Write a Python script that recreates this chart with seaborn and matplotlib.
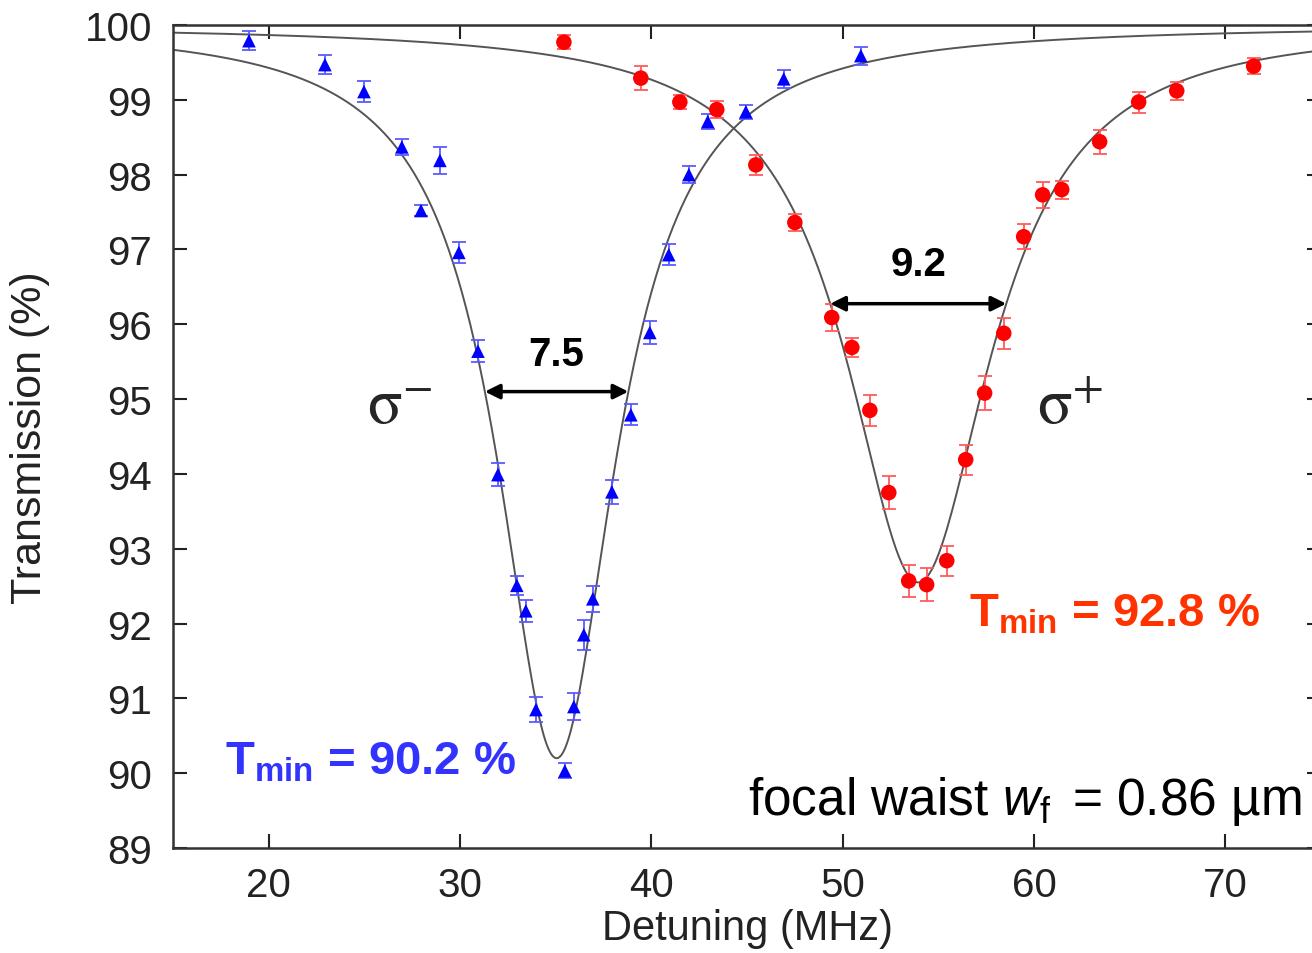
import numpy as np
import pandas as pd
import matplotlib
matplotlib.use("Agg")
import matplotlib.pyplot as plt
import seaborn as sns

# ---- data ----
sigma_minus_x = [18.97, 22.94, 24.98, 26.96, 28.95, 27.96, 29.94, 30.94, 31.98, 32.97,
                 33.44, 33.97, 35.48, 35.95, 36.47, 36.94, 37.94, 38.93, 39.92, 40.91,
                 41.96, 42.95, 44.94, 46.92, 50.95]
sigma_minus_y = [99.79, 99.47, 99.11, 98.37, 98.19, 97.52, 96.96, 95.64, 93.99, 92.51,
                 92.17, 90.85, 90.03, 90.89, 91.85, 92.33, 93.76, 94.79, 95.89, 96.93,
                 98.00, 98.71, 98.84, 99.28, 99.59]
sigma_minus_err = [0.13, 0.13, 0.14, 0.11, 0.18, 0.07, 0.14, 0.15, 0.15, 0.13,
                   0.15, 0.17, 0.10, 0.18, 0.20, 0.17, 0.16, 0.14, 0.15, 0.14,
                   0.11, 0.10, 0.09, 0.12, 0.12]

sigma_plus_x = [35.43, 39.45, 41.49, 43.42, 45.46, 47.50, 49.43, 50.48, 51.42, 52.41,
                53.45, 54.39, 55.44, 56.43, 57.42, 58.42, 59.46, 60.45, 61.45, 63.43,
                65.47, 67.46, 71.48]
sigma_plus_y = [99.77, 99.29, 98.97, 98.87, 98.13, 97.36, 96.09, 95.69, 94.85, 93.75,
                92.57, 92.52, 92.84, 94.19, 95.08, 95.88, 97.17, 97.73, 97.80, 98.44,
                98.97, 99.12, 99.45]
sigma_plus_err = [0.09, 0.16, 0.09, 0.11, 0.13, 0.12, 0.18, 0.13, 0.21, 0.22,
                  0.21, 0.22, 0.20, 0.20, 0.23, 0.21, 0.17, 0.17, 0.12, 0.16,
                  0.14, 0.12, 0.11]

# Lorentzian fit parameters (centre, depth, FWHM)
fit_minus = dict(center=35.05, depth=9.80, fwhm=7.5)
fit_plus = dict(center=53.95, depth=7.45, fwhm=9.2)

x_ticks = [20, 30, 40, 50, 60, 70]
y_ticks = list(range(89, 101))

BLUE = "#0000FF"
RED = "#FF0000"
BLUE_TXT = "#3333FF"
RED_TXT = "#FF3300"

sns.set_theme(style="ticks")
plt.rcParams["font.family"] = ["Liberation Sans", "DejaVu Sans"]
plt.rcParams["mathtext.fontset"] = "custom"
plt.rcParams["mathtext.rm"] = "Liberation Sans"
plt.rcParams["mathtext.it"] = "Liberation Sans:italic"
plt.rcParams["mathtext.bf"] = "Liberation Sans:bold"

fig = plt.figure(figsize=(13.12, 9.54), dpi=100)
ax = fig.add_axes([173 / 1312, 1 - 849 / 954, 1148 / 1312, 823 / 954])


def lorentz(x, p):
    return 100 - p["depth"] / (1 + (2 * (x - p["center"]) / p["fwhm"]) ** 2)


xx = np.linspace(15, 75, 800)
curves = pd.concat([
    pd.DataFrame({"x": xx, "T": lorentz(xx, fit_minus), "s": "minus"}),
    pd.DataFrame({"x": xx, "T": lorentz(xx, fit_plus), "s": "plus"}),
])
sns.lineplot(data=curves, x="x", y="T", units="s", estimator=None, color="#555555",
             lw=1.4, ax=ax, legend=False, zorder=2)

ax.errorbar(sigma_minus_x, sigma_minus_y, yerr=sigma_minus_err, fmt="none",
            ecolor="#5a5aff", elinewidth=1.3, capsize=5, capthick=1.3, zorder=3)
ax.errorbar(sigma_plus_x, sigma_plus_y, yerr=sigma_plus_err, fmt="none",
            ecolor="#ff5a5a", elinewidth=1.3, capsize=5, capthick=1.3, zorder=3)

df_m = pd.DataFrame({"x": sigma_minus_x, "T": sigma_minus_y})
df_p = pd.DataFrame({"x": sigma_plus_x, "T": sigma_plus_y})
sns.scatterplot(data=df_m, x="x", y="T", marker="^", s=95, color=BLUE,
                edgecolor="none", ax=ax, zorder=4)
sns.scatterplot(data=df_p, x="x", y="T", marker="o", s=125, color=RED,
                edgecolor="none", ax=ax, zorder=4)

# FWHM arrows
for p, lbl, ty in [(fit_minus, "7.5", 95.6), (fit_plus, "9.2", 96.8)]:
    half = 100 - p["depth"] / 2
    ax.annotate("", xy=(p["center"] - p["fwhm"] / 2, half),
                xytext=(p["center"] + p["fwhm"] / 2, half),
                arrowprops=dict(arrowstyle="<|-|>", color="black", lw=2.5,
                                mutation_scale=22, shrinkA=0, shrinkB=0), zorder=5)
    ax.text(p["center"], ty, lbl, ha="center", va="center", fontsize=29,
            fontweight="bold", color="black")

ax.text(25.14, 94.68, r"$\mathrm{\sigma}^{-}$", fontsize=46, ha="left",
        va="baseline", math_fontfamily="stix")
ax.text(60.14, 94.68, r"$\mathrm{\sigma}^{+}$", fontsize=46, ha="left",
        va="baseline", math_fontfamily="stix")

ax.text(17.72, 89.99, r"$\mathbf{T}_{\mathbf{min}}$ = 90.2 %", fontsize=34,
        fontweight="bold", color=BLUE_TXT, ha="left", va="baseline")
ax.text(56.59, 91.97, r"$\mathbf{T}_{\mathbf{min}}$ = 92.8 %", fontsize=34,
        fontweight="bold", color=RED_TXT, ha="left", va="baseline")

ax.text(74.0, 89.45, r"focal waist $w_{\mathrm{f}}\,$ = 0.86 µm", fontsize=37,
        ha="right", va="baseline", color="black")

ax.set_xlim(15, 75)
ax.set_ylim(89, 100)
ax.set_xticks(x_ticks)
ax.set_yticks(y_ticks)
ax.tick_params(direction="in", length=10, width=1.5, top=True, right=True,
               labelsize=29, colors="#222222")
ax.tick_params(axis="y", pad=15)
ax.tick_params(axis="x", pad=13)
for sp in ax.spines.values():
    sp.set_linewidth(1.8)
    sp.set_color("#333333")

ax.set_xlabel("Detuning (MHz)", fontsize=30, color="#222222")
ax.set_ylabel("Transmission (%)", fontsize=31, color="#222222")
ax.xaxis.set_label_coords(0.5, -0.073)
ax.yaxis.set_label_coords(-0.107, 0.5)

fig.savefig("out.png", dpi=100)
